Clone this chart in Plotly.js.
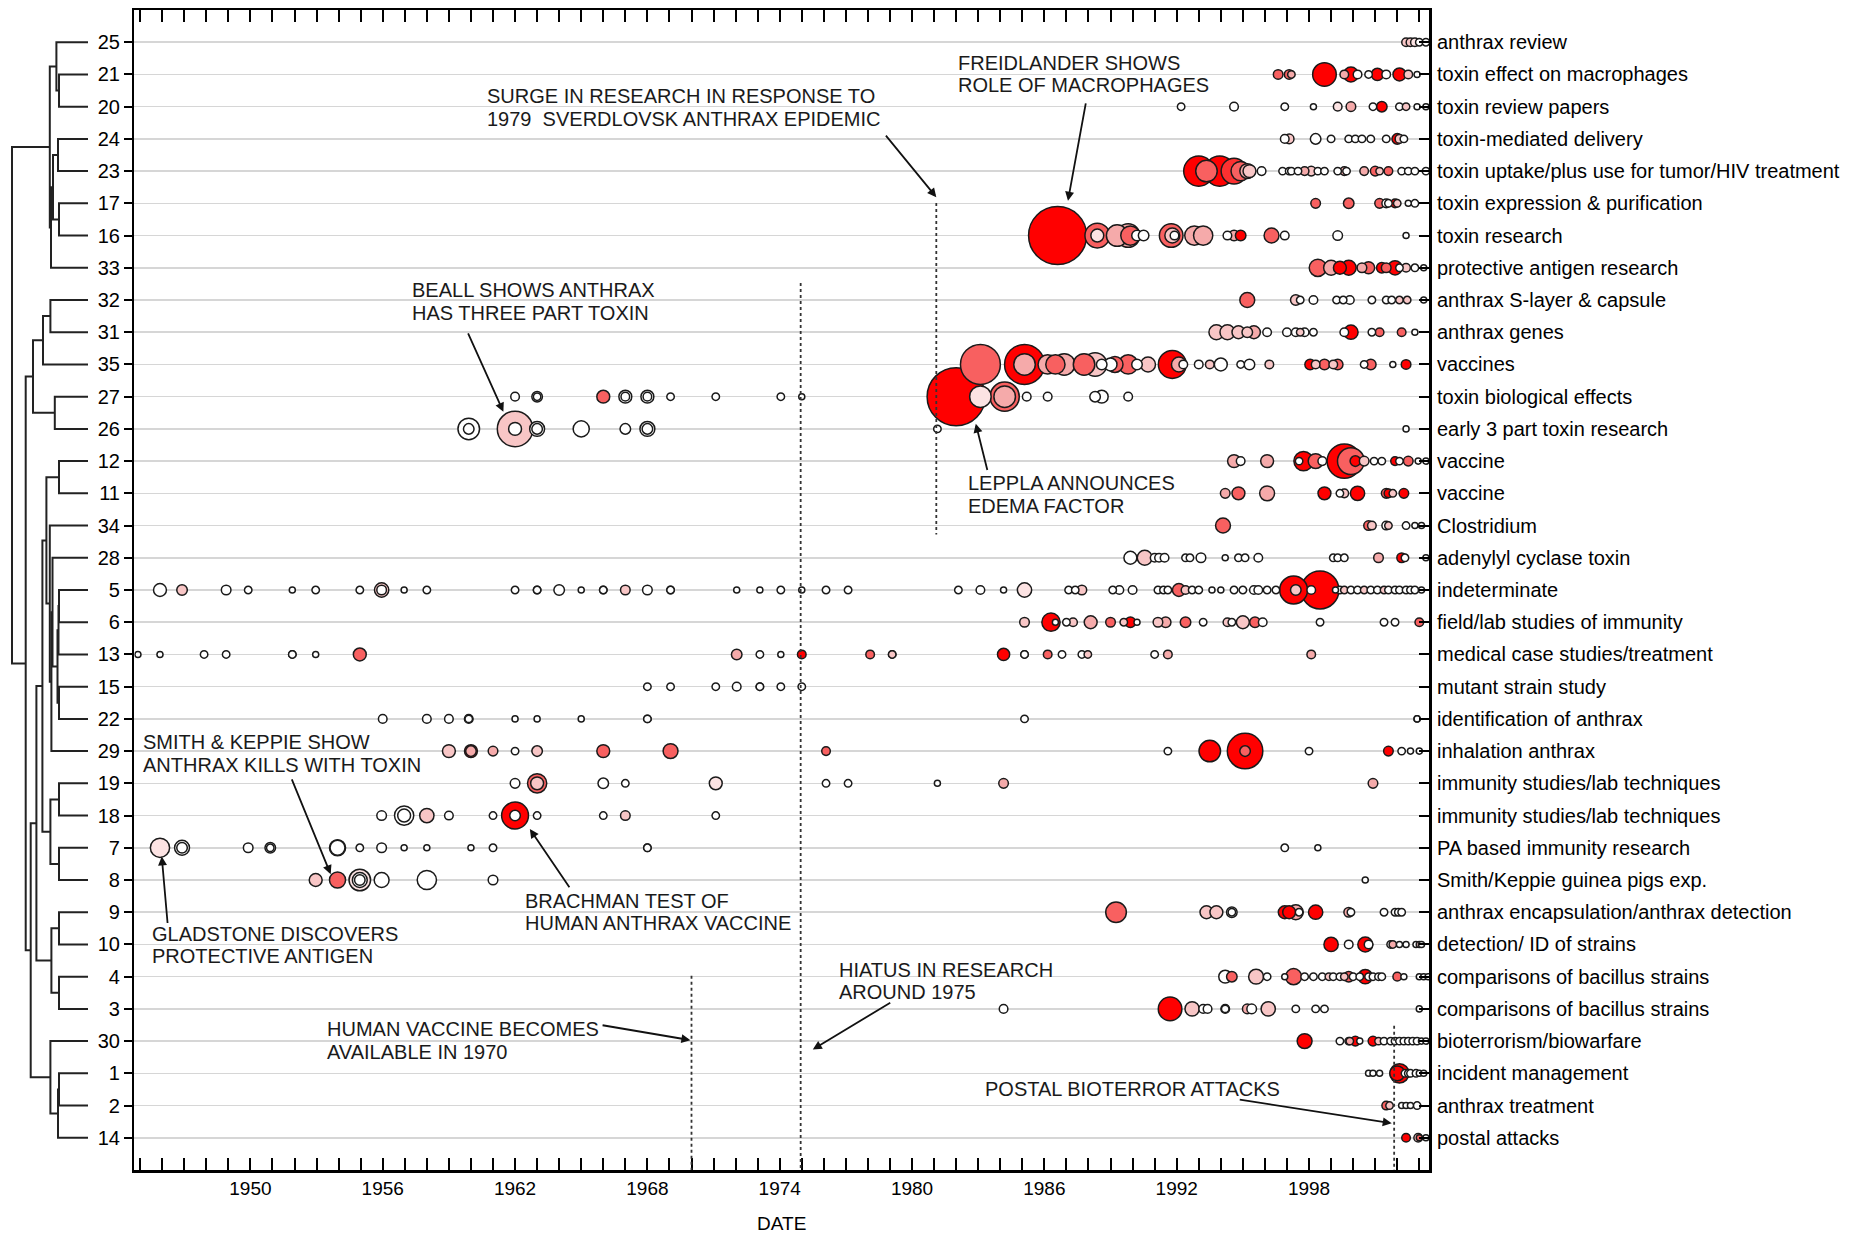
<!DOCTYPE html>
<html><head><meta charset="utf-8">
<script src="https://cdn.plot.ly/plotly-3.0.1.min.js"></script>
<style>body{margin:0;background:#fff}#chart{width:1871px;height:1234px}</style>
</head><body><div id="chart"></div>
<script>
// ---------- categories (top to bottom) ----------
const topicIds = [25,21,20,24,23,17,16,33,32,31,35,27,26,12,11,34,28,5,6,13,15,22,29,19,18,7,8,9,10,4,3,30,1,2,14];
const topicNames = ['anthrax review','toxin effect on macrophages','toxin review papers','toxin-mediated delivery',
 'toxin uptake/plus use for tumor/HIV treatment','toxin expression & purification','toxin research',
 'protective antigen research','anthrax S-layer & capsule','anthrax genes','vaccines','toxin biological effects',
 'early 3 part toxin research','vaccine','vaccine','Clostridium','adenylyl cyclase toxin','indeterminate',
 'field/lab studies of immunity','medical case studies/treatment','mutant strain study','identification of anthrax',
 'inhalation anthrax','immunity studies/lab techniques','immunity studies/lab techniques','PA based immunity research',
 'Smith/Keppie guinea pigs exp.','anthrax encapsulation/anthrax detection','detection/ ID of strains',
 'comparisons of bacillus strains','comparisons of bacillus strains','bioterrorism/biowarfare','incident management',
 'anthrax treatment','postal attacks'];
const yearLabels = [1950,1956,1962,1968,1974,1980,1986,1992,1998];

// ---------- papers per topic: [year, citations, red share] ----------
const papersByTopic = [
 [25,[[2002.4,4,.3],[2002.6,4,.3],[2002.8,4,.15],[2003.0,3,0],[2003.3,3,0]]],
 [21,[[1996.6,5,.7],[1997.1,5,.7],[1997.2,3,.45],[1998.7,30,1],[1999.6,4,.45],[1999.9,12,1],[2000.2,4,0],[2000.7,3,0],[2001.1,8,1],[2001.5,4,0],[2002.1,9,1],[2002.5,4,.3],[2002.9,2,0]]],
 [20,[[1992.2,3,0],[1994.6,4,0],[1996.9,3,0],[1998.2,2,0],[1999.3,4,.15],[1999.9,5,.45],[2000.9,3,0],[2001.3,6,1],[2002.1,3,0],[2002.4,3,.3],[2002.9,2,0],[2003.3,2,0]]],
 [24,[[1996.9,4,0],[1997.1,5,.3],[1998.3,6,0],[1999.0,3,0],[1999.8,3,0],[2000.1,3,0],[2000.4,3,0],[2000.8,3,0],[2001.5,3,0],[2002.0,6,1],[2002.1,4,.3],[2002.3,3,0]]],
 [23,[[1993.0,49,1],[1993.35,25,.7],[1993.95,49,1],[1994.6,36,.85],[1994.9,20,.7],[1995.2,12,.45],[1995.3,9,.3],[1995.85,4,0],[1996.8,3,0],[1997.1,3,0],[1997.2,3,0],[1997.5,3,0],[1997.8,4,.45],[1998.1,5,.3],[1998.4,3,0],[1998.7,3,0],[1999.3,3,0],[1999.6,4,.45],[1999.7,3,0],[2000.5,4,.45],[2001.0,5,.7],[2001.2,3,.3],[2001.6,4,.7],[2002.2,3,0],[2002.5,3,0],[2002.8,3,0],[2003.3,3,0]]],
 [17,[[1998.3,5,.7],[1999.8,6,.7],[2001.2,5,.7],[2001.5,4,0],[2001.6,3,0],[2001.9,4,1],[2002.0,3,.3],[2002.5,2,0],[2002.8,3,0]]],
 [16,[[1986.6,182,1],[1988.4,33,.7],[1988.4,9,.15],[1989.3,25,.45],[1989.8,30,.45],[1989.9,20,.7],[1990.2,6,0],[1990.5,6,0],[1991.75,30,.7],[1991.8,12,.3],[1991.9,4,0],[1992.8,20,.45],[1993.2,20,.45],[1994.3,4,0],[1994.6,6,.45],[1994.9,6,1],[1996.3,12,.7],[1996.9,4,0],[1999.3,5,0],[2002.4,2,0]]],
 [33,[[1998.4,16,.7],[1999.0,12,.45],[1999.4,9,1],[1999.8,12,1],[2000.4,5,.45],[2000.7,8,.7],[2001.3,6,1],[2001.5,5,.7],[2001.9,11,1],[2002.1,3,0],[2002.4,4,.3],[2002.8,3,0],[2003.2,2,0]]],
 [32,[[1995.2,12,.7],[1997.4,6,.3],[1997.6,3,0],[1998.2,4,0],[1999.25,3,0],[1999.55,3,0],[1999.85,4,0],[2000.85,3,0],[2001.5,3,0],[2001.75,3,0],[2002.1,3,.3],[2002.45,3,.3],[2003.2,2,0]]],
 [31,[[1993.8,12,.3],[1994.3,12,.3],[1994.8,9,.3],[1995.2,6,.3],[1995.5,9,.45],[1996.1,4,0],[1997.0,4,0],[1997.4,4,0],[1997.6,3,.3],[1997.8,4,0],[1998.2,3,0],[1999.6,4,0],[1999.9,11,1],[2000.85,3,0],[2001.2,4,.7],[2002.2,4,.7],[2002.8,2,0]]],
 [35,[[1983.1,86,.7],[1985.1,86,1],[1985.1,25,.45],[1986.15,20,.45],[1986.5,20,.7],[1986.9,25,.45],[1987.8,25,.7],[1988.3,30,.3],[1988.6,6,0],[1989.0,9,0],[1989.2,14,.7],[1989.8,20,.7],[1990.2,6,0],[1990.7,12,.3],[1991.8,42,1],[1992.1,12,.45],[1992.3,4,0],[1993.0,4,0],[1993.5,4,.3],[1994.0,9,0],[1994.9,3,0],[1995.3,6,0],[1996.2,4,.3],[1998.05,6,1],[1998.3,4,.3],[1998.7,6,.7],[1999.1,4,.3],[1999.3,6,.7],[2000.5,3,0],[2000.8,6,.7],[2001.8,2,0],[2002.4,5,1]]],
 [27,[[1962.0,4,0],[1963.0,6,0],[1963.0,3,0],[1966.0,9,.7],[1967.0,9,0],[1967.0,4,0],[1968.0,9,0],[1968.0,4,0],[1969.05,3,0],[1971.1,3,0],[1974.05,3,0],[1975.0,2,0],[1982.0,182,1],[1983.1,25,.15],[1984.2,46,.7],[1984.2,25,.45],[1985.2,4,0],[1986.15,4,0],[1988.3,6,0],[1988.6,9,0],[1989.8,4,0]]],
 [26,[[1959.9,25,0],[1959.9,6,0],[1962.0,68,.3],[1962.0,9,0],[1963.0,12,0],[1963.0,6,0],[1965.0,14,0],[1967.0,6,0],[1968.0,12,0],[1968.0,6,0],[1981.15,3,0],[2002.4,2,0]]],
 [12,[[1994.6,9,.45],[1994.9,4,0],[1996.1,9,.45],[1997.55,3,0],[1997.75,20,1],[1998.3,12,.7],[1998.6,4,0],[1999.6,64,1],[1999.9,39,.7],[2000.1,6,1],[2000.5,5,.3],[2000.95,3,0],[2001.3,3,0],[2001.9,4,1],[2002.1,3,0],[2002.5,5,.7],[2002.95,2,0],[2003.3,2,0]]],
 [11,[[1994.2,5,.45],[1994.8,9,.7],[1996.1,12,.45],[1998.7,9,1],[1999.4,3,0],[1999.6,4,.3],[2000.2,11,1],[2001.5,5,.7],[2001.6,4,1],[2001.8,3,.3],[2002.3,5,1]]],
 [34,[[1994.1,12,.7],[2000.7,5,.7],[2000.85,4,.3],[2001.5,4,0],[2001.6,3,.3],[2002.4,3,0],[2002.8,2,0],[2003.1,2,0]]],
 [28,[[1989.9,9,0],[1990.55,12,.3],[1991.0,4,0],[1991.2,4,0],[1991.45,4,0],[1992.4,3,0],[1992.6,3,0],[1993.1,5,0],[1994.2,2,0],[1994.8,3,0],[1995.1,3,0],[1995.7,4,0],[1999.1,3,0],[1999.3,3,0],[1999.6,3,0],[2001.15,5,.45],[2002.2,5,1],[2002.35,3,0],[2003.3,2,0]]],
 [5,[[1945.9,9,0],[1946.9,6,.3],[1948.9,5,0],[1949.9,3,0],[1951.9,2,0],[1952.96,3,0],[1954.96,3,0],[1955.95,11,.3],[1955.95,5,0],[1956.97,2,0],[1958.0,3,0],[1962.0,3,0],[1963.0,3,0],[1963.0,3,0],[1964.0,6,0],[1965.0,2,0],[1966.0,3,0],[1966.0,3,0],[1967.0,5,.3],[1968.0,5,0],[1969.05,3,0],[1969.05,3,0],[1972.05,2,0],[1973.1,2,0],[1974.05,3,0],[1975.0,2,0],[1976.1,3,0],[1977.1,3,0],[1982.1,3,0],[1983.1,4,0],[1984.15,2,0],[1985.1,11,.15],[1987.1,3,0],[1987.4,3,0],[1987.7,5,.3],[1989.1,3,0],[1989.4,4,0],[1990.0,4,0],[1991.15,3,0],[1991.4,3,0],[1991.6,3,0],[1992.1,9,.7],[1992.4,4,.3],[1992.7,3,0],[1993.0,3,0],[1993.6,2,0],[1994.0,2,0],[1994.6,3,0],[1995.0,3,0],[1995.5,4,0],[1995.7,4,0],[1996.1,3,0],[1996.5,3,0],[1997.3,42,1],[1997.4,6,.3],[1998.1,4,0],[1998.5,77,1],[1999.2,2,0],[1999.4,3,0],[1999.6,3,.3],[1999.9,3,0],[2000.2,3,0],[2000.5,3,.3],[2000.8,3,0],[2001.1,3,0],[2001.4,3,.3],[2001.6,3,0],[2001.9,3,0],[2002.1,3,0],[2002.4,3,0],[2002.6,3,0],[2002.8,3,0],[2003.1,2,0]]],
 [6,[[1985.1,5,.3],[1986.3,18,1],[1986.5,2,0],[1987.0,3,0],[1987.3,4,.3],[1988.1,9,.45],[1989.0,5,.7],[1989.6,3,.3],[1989.9,6,1],[1990.2,2,0],[1991.15,5,.3],[1991.5,6,.45],[1992.4,6,.7],[1993.2,3,0],[1994.3,4,.3],[1994.5,3,0],[1995.0,9,.3],[1995.55,6,.7],[1995.9,4,0],[1998.5,3,0],[2001.4,3,0],[2001.9,3,0],[2003.0,4,.7]]],
 [13,[[1944.9,2,0],[1945.9,2,0],[1947.9,3,0],[1948.9,3,0],[1951.9,3,0],[1951.9,3,0],[1952.96,2,0],[1954.96,9,.7],[1972.05,6,.45],[1973.1,3,0],[1974.05,2,0],[1975.0,4,1],[1978.1,4,.7],[1979.1,3,.45],[1979.1,3,.3],[1984.15,8,1],[1985.1,3,.3],[1985.1,3,0],[1986.15,4,.7],[1986.8,3,0],[1987.7,3,0],[1987.97,3,.3],[1991.0,3,0],[1991.6,4,.45],[1998.1,4,.45]]],
 [15,[[1968.0,3,0],[1969.05,3,0],[1971.1,3,0],[1972.05,4,0],[1973.1,3,0],[1973.1,3,0],[1974.05,3,0],[1975.0,3,0]]],
 [22,[[1956.0,4,0],[1958.0,4,0],[1959.0,4,0],[1959.9,4,0],[1959.9,3,0],[1962.0,2,0],[1963.0,2,0],[1965.0,2,0],[1968.0,3,0],[1968.0,3,0],[1985.1,3,0],[2002.9,2,0],[2002.9,2,0]]],
 [29,[[1959.0,9,.3],[1960.0,9,1],[1960.0,6,.45],[1961.0,5,.45],[1962.0,3,0],[1963.0,6,.3],[1966.0,9,.7],[1969.05,12,.7],[1976.1,4,.7],[1991.6,3,0],[1993.5,25,1],[1995.1,68,1],[1995.1,6,.7],[1998.0,3,0],[2001.6,5,1],[2002.2,3,0],[2002.6,2,0],[2003.0,2,0]]],
 [19,[[1962.0,5,0],[1963.0,20,.7],[1963.0,9,.3],[1966.0,6,0],[1967.0,3,0],[1971.1,9,.15],[1976.1,3,0],[1977.1,3,0],[1981.15,2,0],[1984.15,5,.45],[2000.9,5,.45]]],
 [18,[[1955.95,5,0],[1956.97,20,0],[1956.97,9,0],[1958.0,11,.3],[1959.0,4,0],[1961.0,3,0],[1962.0,39,1],[1962.0,6,0],[1963.0,3,0],[1966.0,3,0],[1967.0,5,.3],[1971.1,3,0]]],
 [7,[[1945.9,20,.15],[1946.9,12,0],[1946.9,6,0],[1949.9,5,0],[1950.9,6,0],[1950.9,3,0],[1953.95,14,.15],[1953.95,12,0],[1954.96,3,0],[1955.95,5,0],[1956.97,2,0],[1958.0,2,0],[1960.0,2,0],[1961.0,3,0],[1968.0,3,0],[1968.0,3,0],[1996.9,3,0],[1998.4,2,0]]],
 [8,[[1952.96,9,.3],[1953.95,14,.7],[1954.96,25,.15],[1954.96,12,0],[1954.96,6,0],[1955.95,12,0],[1958.0,20,0],[1961.0,5,0],[2000.55,2,0]]],
 [9,[[1989.25,23,.7],[1993.35,9,.3],[1993.8,9,.3],[1994.5,6,0],[1994.5,3,0],[1996.9,9,1],[1997.1,9,1],[1997.4,12,.45],[1997.55,3,0],[1998.3,11,1],[1999.8,5,.45],[1999.9,3,0],[2001.4,3,0],[2001.9,3,0],[2002.05,3,0],[2002.2,3,0]]],
 [10,[[1999.0,11,1],[1999.8,4,0],[2000.55,12,1],[2000.7,4,0],[2001.7,3,0],[2001.8,3,.45],[2002.1,2,0],[2002.4,2,0],[2002.85,2,0],[2003.0,2,.3],[2003.1,2,0]]],
 [4,[[1994.2,9,0],[1994.5,6,.7],[1995.6,12,.3],[1996.1,3,0],[1996.9,2,0],[1997.3,14,.7],[1997.8,3,0],[1998.2,3,0],[1998.6,3,0],[1998.9,3,.3],[1999.1,3,0],[1999.4,3,0],[1999.6,3,.3],[1999.8,6,.7],[2000.0,3,0],[2000.3,3,0],[2000.55,11,1],[2000.7,3,0],[2000.9,3,0],[2001.15,3,0],[2001.3,3,0],[2002.0,4,.7],[2002.3,2,0],[2003.0,2,0],[2003.2,2,0],[2003.4,2,0]]],
 [3,[[1984.15,4,0],[1991.7,30,1],[1992.7,11,.3],[1993.2,4,0],[1993.4,4,0],[1994.2,4,0],[1994.2,3,0],[1995.2,5,.45],[1995.4,5,0],[1996.15,11,.3],[1997.4,3,0],[1998.3,3,0],[1998.7,3,0],[2003.0,2,0]]],
 [30,[[1997.8,12,1],[1999.4,3,0],[1999.8,3,0],[1999.85,3,.45],[2000.1,5,1],[2000.3,2,0],[2000.9,5,1],[2001.15,3,.3],[2001.4,3,0],[2001.7,3,0],[2001.9,3,0],[2002.1,3,0],[2002.3,3,0],[2002.5,3,0],[2002.7,3,0],[2002.9,3,0],[2003.1,2,0],[2003.3,2,0]]],
 [1,[[2000.7,2,0],[2000.9,2,0],[2001.2,2,0],[2002.0,12,1],[2002.1,20,1],[2002.35,3,0],[2002.5,3,0],[2002.6,3,0],[2002.85,3,0],[2003.0,2,0],[2003.2,2,0]]],
 [2,[[2001.5,4,.7],[2001.65,3,.3],[2002.2,2,0],[2002.4,2,0],[2002.6,2,0],[2002.9,3,0]]],
 [14,[[2002.4,4,1],[2002.95,4,.3],[2003.0,2,.7],[2003.3,2,0]]]
];

// ---------- dendrogram merges: [childA, childB, linkage height] ----------
const dendroMerges = [
 [21,20,2.9],[25,'n0',3.16],[24,23,3.0],[17,16,2.9],['n2','n3',3.5],['n4',33,3.7],['n1','n5',3.82],
 [32,31,3.76],['n7',35,4.5],[27,26,3.32],['n8','n9',5.5],
 [12,11,2.9],[5,6,2.9],['n12',13,2.95],[15,22,2.9],['n13','n14',3.05],[28,'n15',3.55],['n16',29,3.66],
 [34,'n17',3.82],['n11','n18',4.16],[19,18,2.9],[7,8,2.9],['n20','n21',3.76],['n19','n22',4.56],
 [9,10,2.9],[4,3,2.9],['n24','n25',3.66],['n23','n26',5.16],[1,2,2.9],['n28',14,3.0],[30,'n29',3.76],
 ['n27','n30',5.73],['n10','n31',6.23],['n6','n32',7.6]
];

// ---------- events (dotted lines) ----------
const eventYears = [1970, 1974.95, 1981.1, 2001.86];
const eventFrom  = [28.97, 7.47, 4.99, 30.52];
const eventTo    = [35, 35, 15.28, 35];

// ---------- callouts (lines of text, anchor, arrow tail -> head) ----------
const callouts = [
 {t:['SURGE IN RESEARCH IN RESPONSE TO','1979\u00a0 SVERDLOVSK ANTHRAX EPIDEMIC'], x:1960.65, y:2.02, tx:1978.76, ty:2.85, hx:1981.1, hy:4.81},
 {t:['FREIDLANDER SHOWS','ROLE OF MACROPHAGES'], x:1982.0, y:0.98, tx:1987.89, ty:1.85, hx:1987.07, hy:4.92},
 {t:['BEALL SHOWS ANTHRAX','HAS THREE PART TOXIN'], x:1957.23, y:8.05, tx:1959.84, ty:8.99, hx:1961.47, hy:11.47},
 {t:['LEPPLA ANNOUNCES','EDEMA FACTOR'], x:1982.45, y:14.04, tx:1983.43, ty:13.32, hx:1982.89, hy:11.84},
 {t:['SMITH & KEPPIE SHOW','ANTHRAX KILLS WITH TOXIN'], x:1945.05, y:22.07, tx:1951.85, ty:22.83, hx:1953.64, hy:25.82},
 {t:['BRACHMAN TEST OF','HUMAN ANTHRAX VACCINE'], x:1962.34, y:26.99, tx:1964.51, ty:26.27, hx:1962.67, hy:24.42},
 {t:['GLADSTONE DISCOVERS','PROTECTIVE ANTIGEN'], x:1945.43, y:28.02, tx:1946.25, ty:27.38, hx:1945.98, hy:25.27},
 {t:['HIATUS IN RESEARCH','AROUND 1975'], x:1976.58, y:29.13, tx:1979.08, ty:29.78, hx:1975.5, hy:31.26},
 {t:['HUMAN VACCINE BECOMES','AVAILABLE IN 1970'], x:1953.37, y:30.98, tx:1965.9, ty:30.5, hx:1969.95, hy:30.97},
 {t:['POSTAL BIOTERROR ATTACKS'], x:1983.21, y:32.48, tx:1994.79, ty:32.81, hx:2001.75, hy:33.55}
];

// ---------- build traces ----------
const FONT = 'Liberation Sans, Arial, Helvetica, sans-serif';
const rowIndex = topicIds.map((_, i) => i);

let pts = [];
papersByTopic.forEach(([topic, list]) => {
  const r = topicIds.indexOf(topic);
  list.forEach(([yr, c, s]) => pts.push({x: yr, y: r, c: c, s: s}));
});
pts.sort((a, b) => b.c - a.c);

const bubbles = {
  type: 'scatter', mode: 'markers', xaxis: 'x', yaxis: 'y', hoverinfo: 'skip',
  x: pts.map(p => p.x), y: pts.map(p => p.y),
  marker: {
    size: pts.map(p => p.c), sizemode: 'area', sizeref: 0.108,
    color: pts.map(p => p.s), cmin: 0, cmax: 1,
    colorscale: [[0, '#ffffff'], [0.5, '#f4a0a0'], [1, '#ff0000']],
    line: {color: '#1a1a1a', width: 1.5}, opacity: 1
  },
  showlegend: false
};

// dendrogram
const nodeY = {}, nodeH = {};
function pos(c) { return (typeof c === 'number') ? [topicIds.indexOf(c), 0] : [nodeY[c], nodeH[c]]; }
const dX = [], dY = [];
dendroMerges.forEach((m, i) => {
  const [a, b, h] = m;
  const [ya, ha] = pos(a), [yb, hb] = pos(b);
  dX.push(ha, h, h, hb, null); dY.push(ya, ya, yb, yb, null);
  nodeY['n' + i] = (ya + yb) / 2; nodeH['n' + i] = h;
});
const dendro = {
  type: 'scatter', mode: 'lines', xaxis: 'x2', yaxis: 'y3', x: dX, y: dY,
  line: {color: '#222', width: 2}, hoverinfo: 'skip', showlegend: false
};
const rightAxisHolder = {
  type: 'scatter', mode: 'markers', xaxis: 'x', yaxis: 'y2', x: [1990], y: [0],
  marker: {opacity: 0}, hoverinfo: 'skip', showlegend: false
};

const shapes = eventYears.map((yr, i) => ({
  type: 'line', xref: 'x', yref: 'y', x0: yr, x1: yr, y0: eventFrom[i], y1: eventTo[i],
  line: {color: '#333', width: 1.8, dash: 'dot'}
}));

const LINE_GAP = 0.70; // rows between two text lines
const annotations = [];
callouts.forEach(c => {
  const n = c.t.length;
  c.t.forEach((line, k) => {
    annotations.push({xref: 'x', yref: 'y', x: c.x, y: c.y + (k - (n - 1) / 2) * LINE_GAP, text: line,
      showarrow: false, xanchor: 'left', yanchor: 'middle', align: 'left',
      font: {family: FONT, size: 20, color: '#1a1a1a'}});
  });
  annotations.push({xref: 'x', yref: 'y', axref: 'x', ayref: 'y', x: c.hx, y: c.hy, ax: c.tx, ay: c.ty,
    text: '', showarrow: true, arrowhead: 2, arrowsize: 1, arrowwidth: 1.8, arrowcolor: '#111'});
});

const W = 1429;
const yRange = [35, -1];
const layout = {
  width: 1871, height: 1234,
  margin: {l: 0, r: 442, t: 10, b: 64},
  paper_bgcolor: '#fff', plot_bgcolor: '#fff',
  font: {family: FONT, size: 20, color: '#000'},
  showlegend: false,
  xaxis: {
    domain: [134.4 / W, 1], range: [1944.74, 2003.44], anchor: 'y',
    tickvals: yearLabels, ticktext: yearLabels.map(String),
    ticks: 'inside', ticklen: 12, tickwidth: 2, tickcolor: '#000',
    minor: {dtick: 1, tick0: 1945, ticks: 'inside', ticklen: 12, tickwidth: 2, tickcolor: '#000', showgrid: false},
    showline: true, linewidth: 2.5, linecolor: '#000', mirror: 'ticks',
    showgrid: false, zeroline: false, automargin: false,
    tickfont: {family: FONT, size: 19},
    title: {text: 'DATE', font: {family: FONT, size: 19}, standoff: 20}
  },
  yaxis: {
    domain: [0, 1], range: yRange, anchor: 'x',
    tickvals: rowIndex, ticktext: topicIds.map(String),
    ticks: 'outside', ticklen: 8, tickwidth: 2, tickcolor: '#000',
    showline: true, linewidth: 2.5, linecolor: '#000', mirror: true,
    showgrid: true, gridcolor: '#d6d6d6', gridwidth: 1.5, zeroline: false, automargin: false,
    tickfont: {family: FONT, size: 20}
  },
  yaxis2: {
    overlaying: 'y', side: 'right', anchor: 'x', range: yRange,
    tickvals: rowIndex, ticktext: topicNames,
    ticks: 'inside', ticklen: 10, tickwidth: 2, tickcolor: '#000', ticklabelstandoff: 7,
    showline: false, showgrid: false, zeroline: false, automargin: false,
    tickfont: {family: FONT, size: 20}
  },
  xaxis2: {domain: [0, 88 / W], range: [8.8, 0], anchor: 'y3', visible: false, fixedrange: true},
  yaxis3: {domain: [0, 1], range: yRange, anchor: 'x2', visible: false, fixedrange: true},
  shapes: shapes,
  annotations: annotations
};

Plotly.newPlot('chart', [dendro, rightAxisHolder, bubbles], layout, {staticPlot: true, displayModeBar: false});
</script>
</body></html>
